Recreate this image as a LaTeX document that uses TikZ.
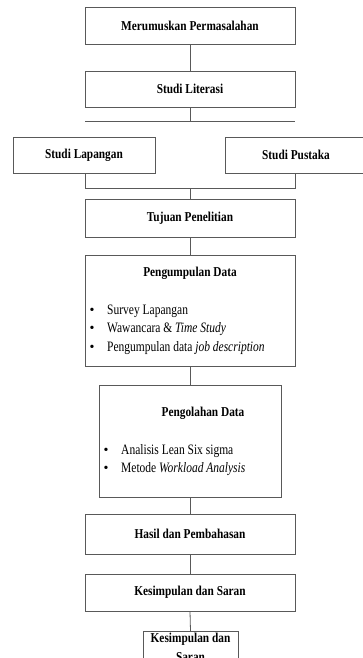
\documentclass[tikz,border=0pt]{standalone}
\usepackage{fontspec}
\usepackage{graphicx}
\setmainfont{Liberation Serif}
\newcommand\tstr[1]{\scalebox{0.96}[1.15]{#1}}
\newcommand\istr[1]{\scalebox{1}[1.25]{#1}}
\begin{document}
\begin{tikzpicture}[x=1pt,y=-1pt,
  box/.style={draw=black!65,line width=0.8pt,rectangle,inner sep=0pt},
  ttl/.style={font=\fontsize{11.8}{14}\selectfont\bfseries,inner sep=0pt},
  itm/.style={font=\fontsize{11.5}{14}\selectfont,anchor=west,inner sep=0pt},
  bul/.style={font=\fontsize{14}{14}\selectfont,inner sep=0pt},
  con/.style={draw=black!65,line width=0.8pt}]
\path[use as bounding box,clip] (0,0) rectangle (363,658);
\fill[white] (0,0) rectangle (363,658);
% boxes
\node[box,minimum width=210pt,minimum height=37pt,ttl] (b1) at (190,25.5) {\tstr{Merumuskan Permasalahan}};
\node[box,minimum width=210pt,minimum height=36pt,ttl] (b2) at (190,89) {\tstr{Studi Literasi}};
\coordinate (hl) at (85,121);
\coordinate (hr) at (295,121);
\coordinate (hm) at (190,121);
\node[box,minimum width=142pt,minimum height=36pt,ttl] (b3) at (84,155) {\tstr{Studi Lapangan}};
\node[box,minimum width=142pt,minimum height=36pt,ttl] (b4) at (296,155) {\tstr{Studi Pustaka}};
\coordinate (jl) at (85,188);
\coordinate (jr) at (295,188);
\coordinate (jm) at (190,188);
\node[box,minimum width=210pt,minimum height=38pt,ttl] (b5) at (190,218) {\tstr{Tujuan Penelitian}};
\node[box,minimum width=210pt,minimum height=111pt] (b6) at (190,310.5) {};
\node[ttl] (t6) at (190,273) {\tstr{Pengumpulan Data}};
\node[bul] (p1) at (92,311) {•};
\node[bul] (p2) at (92,329) {•};
\node[bul] (p3) at (92,348) {•};
\node[itm] (i1) at (107,311) {\istr{Survey Lapangan}};
\node[itm] (i2) at (107,329) {\istr{Wawancara \& \textit{Time Study}}};
\node[itm] (i3) at (107,348) {\istr{Pengumpulan data \textit{job description}}};
\node[box,minimum width=182pt,minimum height=112pt] (b7) at (190,441) {};
\node[ttl] (t7) at (203,413) {\tstr{Pengolahan Data}};
\node[bul] (q1) at (106,451) {•};
\node[bul] (q2) at (106,469) {•};
\node[itm] (j1) at (121,451) {\istr{Analisis Lean Six sigma}};
\node[itm] (j2) at (121,469) {\istr{Metode \textit{Workload Analysis}}};
\node[box,minimum width=210pt,minimum height=40pt,ttl] (b8) at (190,534) {\tstr{Hasil dan Pembahasan}};
\node[box,minimum width=210pt,minimum height=37pt,ttl] (b9) at (190,592.5) {\tstr{Kesimpulan dan Saran}};
\node[box,minimum width=95pt,minimum height=44pt,anchor=north] (b10) at (190.5,631) {};
\node[ttl] (t10a) at (190.5,639) {\tstr{Kesimpulan dan}};
\node[ttl] (t10b) at (190.5,657) {\tstr{Saran}};
% connectors
\draw[con] (b1.south) -- (b2.north);
\draw[con] (b2.south) -- (hm);
\draw[con] (hl) -- (hr);
\draw[con] (b3.south -| jl) -- (jl) -- (jr) -- (b4.south -| jr);
\draw[con] (jm) -- (b5.north);
\draw[con] (b5.south) -- (b6.north);
\draw[con] (b6.south) -- (b7.north);
\draw[con] (b7.south) -- (b8.north);
\draw[con] (b8.south) -- (b9.north);
\draw[con] (b9.south) -- (b10.north);
\end{tikzpicture}
\end{document}
